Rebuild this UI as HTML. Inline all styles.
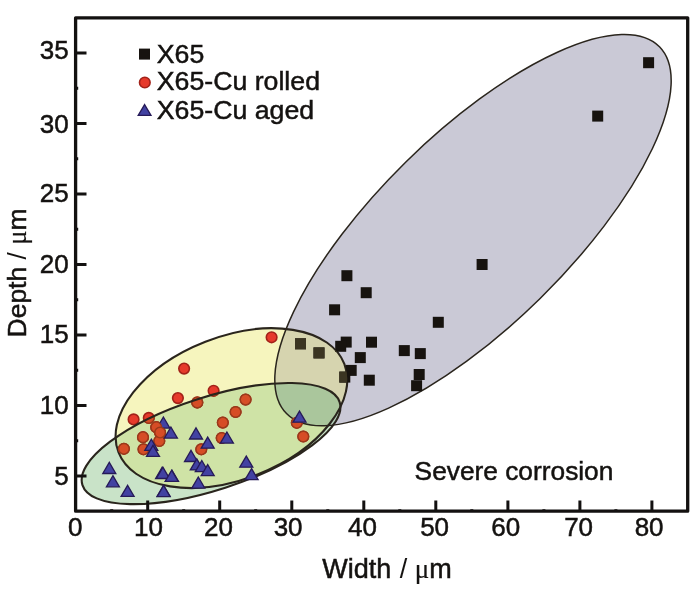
<!DOCTYPE html>
<html><head><meta charset="utf-8"><title>Pit depth vs width</title>
<style>html,body{margin:0;padding:0;background:#fff;overflow:hidden}svg{display:block;will-change:transform}</style></head>
<body><svg width="700" height="598" viewBox="0 0 700 598">
<defs><clipPath id="cB"><ellipse cx="472.99" cy="230.19" rx="95.74" ry="261.55" transform="rotate(45.48 472.99 230.19)" /></clipPath><clipPath id="cY"><ellipse cx="231.44" cy="408.12" rx="121.27" ry="71.34" transform="rotate(-21.42 231.44 408.12)" /></clipPath><clipPath id="cG"><ellipse cx="211.05" cy="443.57" rx="135.12" ry="46.38" transform="rotate(-17.88 211.05 443.57)" /></clipPath></defs>
<rect width="700" height="598" fill="#fff"/>
<ellipse cx="472.99" cy="230.19" rx="95.74" ry="261.55" transform="rotate(45.48 472.99 230.19)" fill="#cac9d6"/>
<ellipse cx="231.44" cy="408.12" rx="121.27" ry="71.34" transform="rotate(-21.42 231.44 408.12)" fill="#f6f5be"/>
<g clip-path="url(#cB)"><ellipse cx="231.44" cy="408.12" rx="121.27" ry="71.34" transform="rotate(-21.42 231.44 408.12)" fill="#d6d4af"/></g>
<ellipse cx="211.05" cy="443.57" rx="135.12" ry="46.38" transform="rotate(-17.88 211.05 443.57)" fill="#c9e3c8"/>
<g clip-path="url(#cY)"><ellipse cx="211.05" cy="443.57" rx="135.12" ry="46.38" transform="rotate(-17.88 211.05 443.57)" fill="#cfe3a6"/></g>
<g clip-path="url(#cB)"><ellipse cx="211.05" cy="443.57" rx="135.12" ry="46.38" transform="rotate(-17.88 211.05 443.57)" fill="#b3cdb8"/></g>
<g clip-path="url(#cB)"><g clip-path="url(#cY)"><ellipse cx="211.05" cy="443.57" rx="135.12" ry="46.38" transform="rotate(-17.88 211.05 443.57)" fill="#aac69c"/></g></g>
<g fill="none" stroke="#2a251d"><ellipse cx="472.99" cy="230.19" rx="95.74" ry="261.55" transform="rotate(45.48 472.99 230.19)" stroke-width="1.5"/><ellipse cx="231.44" cy="408.12" rx="121.27" ry="71.34" transform="rotate(-21.42 231.44 408.12)" stroke-width="2.1"/></g>
<g fill="#17130f"><rect x="643.1" y="57.2" width="11" height="11"/><rect x="592.2" y="110.6" width="11" height="11"/><rect x="476.6" y="259.0" width="11" height="11"/><rect x="432.8" y="316.8" width="11" height="11"/><rect x="341.4" y="270.2" width="11" height="11"/><rect x="360.7" y="287.2" width="11" height="11"/><rect x="329.1" y="304.3" width="11" height="11"/><rect x="295.0" y="338.3" width="11" height="11"/><rect x="313.5" y="347.4" width="11" height="11"/><rect x="340.7" y="336.6" width="11" height="11"/><rect x="335.2" y="340.8" width="11" height="11"/><rect x="354.8" y="352.1" width="11" height="11"/><rect x="345.7" y="364.9" width="11" height="11"/><rect x="339.3" y="371.6" width="11" height="11"/><rect x="363.8" y="374.7" width="11" height="11"/><rect x="366.0" y="336.7" width="11" height="11"/><rect x="398.8" y="345.1" width="11" height="11"/><rect x="414.8" y="348.1" width="11" height="11"/><rect x="413.7" y="369.0" width="11" height="11"/><rect x="411.1" y="380.2" width="11" height="11"/></g>
<g fill="#3b3522" clip-path="url(#cY)"><rect x="643.1" y="57.2" width="11" height="11"/><rect x="592.2" y="110.6" width="11" height="11"/><rect x="476.6" y="259.0" width="11" height="11"/><rect x="432.8" y="316.8" width="11" height="11"/><rect x="341.4" y="270.2" width="11" height="11"/><rect x="360.7" y="287.2" width="11" height="11"/><rect x="329.1" y="304.3" width="11" height="11"/><rect x="295.0" y="338.3" width="11" height="11"/><rect x="313.5" y="347.4" width="11" height="11"/><rect x="340.7" y="336.6" width="11" height="11"/><rect x="335.2" y="340.8" width="11" height="11"/><rect x="354.8" y="352.1" width="11" height="11"/><rect x="345.7" y="364.9" width="11" height="11"/><rect x="339.3" y="371.6" width="11" height="11"/><rect x="363.8" y="374.7" width="11" height="11"/><rect x="366.0" y="336.7" width="11" height="11"/><rect x="398.8" y="345.1" width="11" height="11"/><rect x="414.8" y="348.1" width="11" height="11"/><rect x="413.7" y="369.0" width="11" height="11"/><rect x="411.1" y="380.2" width="11" height="11"/></g>
<g fill="#e63a2b" stroke="#a22219" stroke-width="1.6"><circle cx="271.6" cy="337.3" r="5.3"/><circle cx="184.1" cy="368.6" r="5.3"/><circle cx="213.6" cy="390.8" r="5.3"/><circle cx="177.9" cy="398.1" r="5.3"/><circle cx="197.3" cy="402.4" r="5.3"/><circle cx="245.6" cy="399.6" r="5.3"/><circle cx="235.6" cy="412" r="5.3"/><circle cx="133.6" cy="419.4" r="5.3"/><circle cx="148.8" cy="417.9" r="5.3"/><circle cx="222.8" cy="422.6" r="5.3"/><circle cx="143" cy="437.2" r="5.3"/><circle cx="156.3" cy="427.2" r="5.3"/><circle cx="160.1" cy="432.6" r="5.3"/><circle cx="159.3" cy="441" r="5.3"/><circle cx="123.9" cy="448.8" r="5.3"/><circle cx="143.5" cy="449.3" r="5.3"/><circle cx="221.7" cy="438" r="5.3"/><circle cx="201.3" cy="449.3" r="5.3"/><circle cx="296.8" cy="422.8" r="5.3"/><circle cx="303.3" cy="436.5" r="5.3"/></g>
<g fill="#d64d26" stroke="#9a3a1a" stroke-width="1.4" clip-path="url(#cG)"><circle cx="271.6" cy="337.3" r="5.3"/><circle cx="184.1" cy="368.6" r="5.3"/><circle cx="213.6" cy="390.8" r="5.3"/><circle cx="177.9" cy="398.1" r="5.3"/><circle cx="197.3" cy="402.4" r="5.3"/><circle cx="245.6" cy="399.6" r="5.3"/><circle cx="235.6" cy="412" r="5.3"/><circle cx="133.6" cy="419.4" r="5.3"/><circle cx="148.8" cy="417.9" r="5.3"/><circle cx="222.8" cy="422.6" r="5.3"/><circle cx="143" cy="437.2" r="5.3"/><circle cx="156.3" cy="427.2" r="5.3"/><circle cx="160.1" cy="432.6" r="5.3"/><circle cx="159.3" cy="441" r="5.3"/><circle cx="123.9" cy="448.8" r="5.3"/><circle cx="143.5" cy="449.3" r="5.3"/><circle cx="221.7" cy="438" r="5.3"/><circle cx="201.3" cy="449.3" r="5.3"/><circle cx="296.8" cy="422.8" r="5.3"/><circle cx="303.3" cy="436.5" r="5.3"/></g>
<circle cx="197.3" cy="402.4" r="5.3" fill="#d64d26" stroke="#9a3a1a" stroke-width="1.4"/>
<g fill="none" stroke="#2a251d"><ellipse cx="211.05" cy="443.57" rx="135.12" ry="46.38" transform="rotate(-17.88 211.05 443.57)" stroke-width="2.1"/></g>
<g fill="#4242a2" stroke="#261a58" stroke-width="1.3"><path d="M163.4 417.0L169.9 428.1H156.9Z"/></g>
<g fill="#d64d26" stroke="#9a3a1a" stroke-width="1.4"><circle cx="156.3" cy="427.2" r="5.3"/><circle cx="160.1" cy="432.6" r="5.3"/></g>
<g fill="#4242a2" stroke="#261a58" stroke-width="1.3"><path d="M109.3 462.4L115.8 473.5H102.8Z"/><path d="M112.9 475.7L119.4 486.8H106.4Z"/><path d="M127.6 485.3L134.1 496.4H121.1Z"/><path d="M163.6 485.3L170.1 496.4H157.1Z"/><path d="M162.1 467.4L168.6 478.5H155.6Z"/><path d="M172.0 470.3L178.5 481.4H165.5Z"/><path d="M170.9 427.0L177.4 438.1H164.4Z"/><path d="M196.0 427.9L202.5 439.0H189.5Z"/><path d="M207.7 437.1L214.2 448.2H201.2Z"/><path d="M226.9 432.0L233.4 443.1H220.4Z"/><path d="M191.0 450.4L197.5 461.5H184.5Z"/><path d="M196.8 458.8L203.3 469.9H190.3Z"/><path d="M201.8 460.5L208.3 471.6H195.3Z"/><path d="M207.7 464.6L214.2 475.7H201.2Z"/><path d="M162.9 467.2L169.4 478.3H156.4Z"/><path d="M171.7 470.2L178.2 481.3H165.2Z"/><path d="M198.3 477.0L204.8 488.1H191.8Z"/><path d="M163.6 485.5L170.1 496.6H157.1Z"/><path d="M246.3 456.1L252.8 467.2H239.8Z"/><path d="M251.6 468.6L258.1 479.7H245.1Z"/><path d="M151.3 439.2L157.8 450.3H144.8Z"/><path d="M153.0 445.3L159.5 456.4H146.5Z"/><path d="M299.5 411.1L306.0 422.2H293.0Z"/></g>
<rect x="75.6" y="17.8" width="612.1" height="493.4" fill="none" stroke="#131110" stroke-width="3.3" stroke-linejoin="round"/>
<path d="M147.7 511V500.5M219.7 511V500.5M291.8 511V500.5M363.8 511V500.5M435.8 511V500.5M507.9 511V500.5M579.9 511V500.5M651.9 511V500.5M111.7 511V509.3M183.7 511V509.3M255.7 511V509.3M327.8 511V509.3M399.8 511V509.3M471.8 511V509.3M543.9 511V509.3M615.9 511V509.3M76 476.0H86.5M76 405.5H86.5M76 335.0H86.5M76 264.5H86.5M76 194.0H86.5M76 123.5H86.5M76 53.0H86.5M76 440.8H78.2M76 370.2H78.2M76 299.8H78.2M76 229.2H78.2M76 158.8H78.2M76 88.2H78.2" stroke="#131110" stroke-width="3" fill="none"/>
<g font-family="Liberation Sans, sans-serif" font-size="26" fill="#141210" stroke="#141210" stroke-width="0.5"><text x="75.3" y="535.8" text-anchor="middle">0</text><text x="148.5" y="535.8" text-anchor="middle">10</text><text x="218.5" y="535.8" text-anchor="middle">20</text><text x="288.1" y="535.8" text-anchor="middle">30</text><text x="362.4" y="535.8" text-anchor="middle">40</text><text x="434.6" y="535.8" text-anchor="middle">50</text><text x="505.7" y="535.8" text-anchor="middle">60</text><text x="578.6" y="535.8" text-anchor="middle">70</text><text x="649.1" y="535.8" text-anchor="middle">80</text><text x="68.6" y="485.3" text-anchor="end">5</text><text x="68.6" y="413.5" text-anchor="end">10</text><text x="68.6" y="343.2" text-anchor="end">15</text><text x="68.6" y="272.8" text-anchor="end">20</text><text x="68.6" y="202.2" text-anchor="end">25</text><text x="68.6" y="133.2" text-anchor="end">30</text><text x="68.6" y="59.4" text-anchor="end">35</text><text x="322.3" y="578.2" font-size="27">Width <tspan stroke-width="0" dx="1">/</tspan> <tspan font-family="Liberation Serif, serif" stroke-width="0.2">μ</tspan>m</text><text transform="translate(26.3 337.5) rotate(-90)" font-size="26.5">Depth <tspan stroke-width="0">/ </tspan><tspan font-family="Liberation Serif, serif" stroke-width="0.2">μ</tspan>m</text><text x="414.6" y="480" font-size="26.3">Severe corrosion</text><text x="156.8" y="62.5" font-size="26.7">X65</text><text x="156.8" y="89.7" font-size="26.7">X65-Cu rolled</text><text x="156.8" y="118.7" font-size="26.7">X65-Cu aged</text></g>
<rect x="139" y="48.6" width="11" height="11" fill="#17130f"/>
<circle cx="144.8" cy="82.5" r="5.3" fill="#e63a2b" stroke="#a22219" stroke-width="1.6"/>
<path d="M144.6 104.6L151 115.4H138.2Z" fill="#4242a2" stroke="#261a58" stroke-width="1.3"/>
</svg></body></html>
